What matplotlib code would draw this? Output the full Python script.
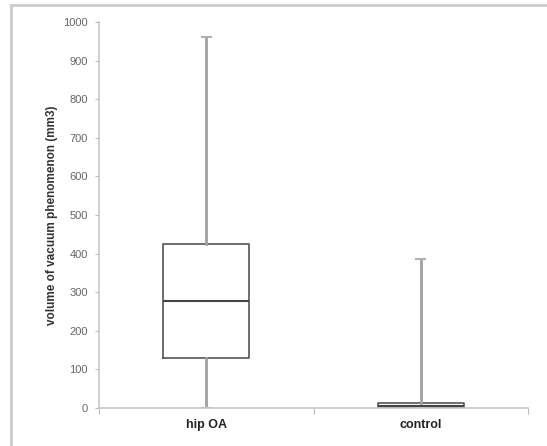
import matplotlib
matplotlib.use("Agg")
import matplotlib.pyplot as plt
from matplotlib.lines import Line2D

plt.rcParams['font.family'] = ['Liberation Sans', 'DejaVu Sans']

# box plot summary values
categories = ["hip OA", "control"]
whisker_low = [0, 0]
q1 = [130, 0]
median = [277, 5]
q3 = [425, 12]
whisker_high = [960, 385]

y_ticks = list(range(0, 1001, 100))

fig = plt.figure(figsize=(5.47, 4.46), dpi=100)
ax = fig.add_axes([99 / 547, 1 - 408 / 446, 429 / 547, 386 / 446])

stats = []
for i, name in enumerate(categories):
    stats.append({
        "label": name,
        "whislo": whisker_low[i],
        "q1": q1[i],
        "med": median[i],
        "q3": q3[i],
        "whishi": whisker_high[i],
        "fliers": [],
    })

ax.bxp(stats, positions=[0, 1], widths=0.4, showfliers=False,
       boxprops=dict(color="#555555", linewidth=1.2),
       medianprops=dict(color="#444444", linewidth=1.5),
       whiskerprops=dict(color="#a0a0a0", linewidth=2.0),
       capprops=dict(color="#b0b0b0", linewidth=1.5),
       capwidths=0.04)

ax.set_xlim(-0.5, 1.5)
ax.set_ylim(0, 1000)
ax.set_yticks(y_ticks)
ax.set_yticklabels([str(t) for t in y_ticks])

# category labels between separator ticks
ax.set_xticks([-0.5, 0.5, 1.5])
ax.set_xticklabels([])
ax.set_xticks([0, 1], minor=True)
ax.set_xticklabels(categories, minor=True, fontsize=9, fontweight="bold", color="#222222")
ax.tick_params(axis="x", which="minor", length=0, pad=8)
ax.tick_params(axis="x", which="major", length=4, color="#bbbbbb", direction="out")
ax.tick_params(axis="y", length=3, color="#bbbbbb", labelsize=8, labelcolor="#666666", pad=5)

for side in ["top", "right"]:
    ax.spines[side].set_visible(False)
for side in ["left", "bottom"]:
    ax.spines[side].set_color("#c8c8c8")
    ax.spines[side].set_linewidth(1.2)

ax.set_ylabel("volume of vacuum phenomenon (mm3)", fontsize=8.5, fontweight="bold",
              color="#333333", labelpad=4)

# light frame at left and top of the picture
fig.add_artist(Line2D([11 / 547, 11 / 547], [0, 1 - 5 / 446], transform=fig.transFigure,
                      color="#cccccc", linewidth=2))
fig.add_artist(Line2D([11 / 547, 1], [1 - 5 / 446, 1 - 5 / 446], transform=fig.transFigure,
                      color="#cccccc", linewidth=2))

fig.savefig("out.png", dpi=100)
